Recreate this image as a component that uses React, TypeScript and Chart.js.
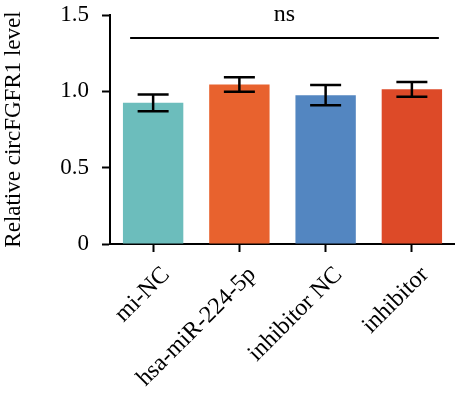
import React, { useEffect, useRef } from "react";
import { Chart, registerables } from "chart.js";

Chart.register(...registerables);

const categories = ["mi-NC", "hsa-miR-224-5p", "inhibitor NC", "inhibitor"];
const means = [0.925, 1.045, 0.975, 1.013];
const errors = [0.055, 0.048, 0.066, 0.048];
const barColors = ["#6CBDBC", "#E8622E", "#5386C1", "#DD4A28"];
const yTicks = [0, 0.5, 1.0, 1.5];
const sigLevel = 1.35;
const sigLabel = "ns";
const yTitle = "Relative circFGFR1 level";

const FONT = "'Liberation Serif', 'Times New Roman', serif";

const overlayPlugin = {
  id: "overlay",
  afterDatasetsDraw(chart: any) {
    const ctx = chart.ctx;
    const meta = chart.getDatasetMeta(0);
    const y = chart.scales.y;
    const x = chart.scales.x;
    ctx.save();
    ctx.strokeStyle = "#000";
    ctx.lineWidth = 2.5;
    ctx.lineCap = "butt";
    meta.data.forEach((bar: any, i: number) => {
      const cx = bar.x;
      const top = y.getPixelForValue(means[i] + errors[i]);
      const bot = y.getPixelForValue(means[i] - errors[i]);
      const hw = 15.5;
      ctx.beginPath();
      ctx.moveTo(cx, top);
      ctx.lineTo(cx, bot);
      ctx.moveTo(cx - hw, top);
      ctx.lineTo(cx + hw, top);
      ctx.moveTo(cx - hw, bot);
      ctx.lineTo(cx + hw, bot);
      ctx.stroke();
    });
    const sy = y.getPixelForValue(sigLevel);
    const x1 = x.getPixelForValue(0) - 23;
    const x2 = x.getPixelForValue(categories.length - 1) + 27;
    ctx.lineWidth = 2;
    ctx.beginPath();
    ctx.moveTo(x1, sy);
    ctx.lineTo(x2, sy);
    ctx.stroke();
    ctx.fillStyle = "#000";
    ctx.font = `24px ${FONT}`;
    ctx.textAlign = "center";
    ctx.textBaseline = "alphabetic";
    ctx.fillText(sigLabel, (x1 + x2) / 2, sy - 17);
    ctx.restore();
  },
};

export default function App() {
  const ref = useRef<HTMLCanvasElement | null>(null);
  useEffect(() => {
    if (!ref.current) return;
    Chart.defaults.font.family = FONT;
    Chart.defaults.color = "#000";
    const chart = new Chart(ref.current, {
      type: "bar",
      data: {
        labels: categories,
        datasets: [
          {
            data: means,
            backgroundColor: barColors,
            borderWidth: 0,
            categoryPercentage: 1,
            barPercentage: 0.7,
          },
        ],
      },
      options: {
        animation: false,
        responsive: false,
        maintainAspectRatio: false,
        layout: { padding: { top: 15, right: 0, left: 0, bottom: 0 } },
        plugins: { legend: { display: false }, tooltip: { enabled: false } },
        scales: {
          x: {
            offset: true,
            grid: {
              display: true,
              drawOnChartArea: false,
              drawTicks: true,
              tickLength: 8,
              tickWidth: 2,
              tickColor: "#000",
              offset: false,
            },
            border: { display: true, color: "#000", width: 2 },
            ticks: {
              font: { size: 24 },
              color: "#000",
              maxRotation: 45,
              minRotation: 45,
              padding: 9,
              labelOffset: 13,
              autoSkip: false,
            },
            afterFit(scale: any) {
              scale.height = 154;
              scale.paddingLeft = 0;
              scale.paddingRight = 0;
            },
          },
          y: {
            min: 0,
            max: 1.5,
            afterBuildTicks(scale: any) {
              scale.ticks = yTicks.map((v) => ({ value: v }));
            },
            grid: {
              display: true,
              drawOnChartArea: false,
              drawTicks: true,
              tickLength: 8,
              tickWidth: 2,
              tickColor: "#000",
            },
            border: { display: true, color: "#000", width: 2 },
            ticks: {
              font: { size: 23 },
              color: "#000",
              padding: 13,
              callback: (v: any) => (v === 0 ? "0" : Number(v).toFixed(1)),
            },
            title: {
              display: true,
              text: yTitle,
              font: { size: 23 },
              color: "#000",
              padding: 0,
            },
            afterFit(scale: any) {
              scale.width = 110;
              scale.paddingTop = 0;
              scale.paddingBottom = 0;
            },
          },
        },
      },
      plugins: [overlayPlugin],
    } as any);
    return () => chart.destroy();
  }, []);
  return (
    <div style={{ position: "absolute", left: 0, top: 0, width: 455, height: 398, background: "#fff" }}>
      <canvas ref={ref} width={455} height={398} style={{ width: 455, height: 398 }} />
    </div>
  );
}
